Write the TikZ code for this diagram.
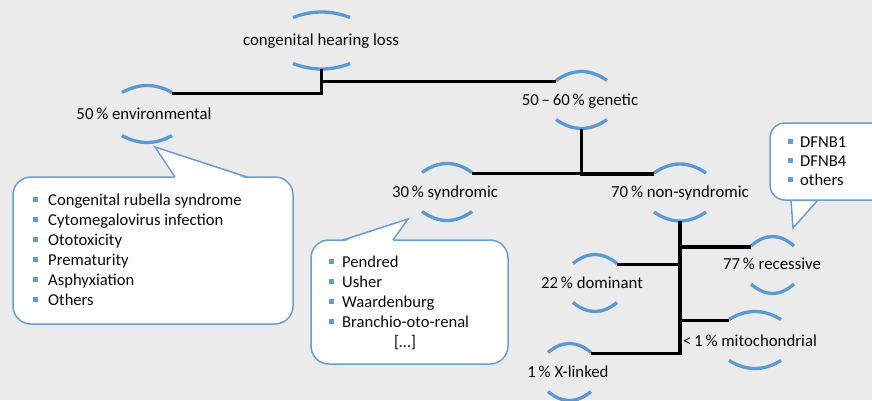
\documentclass[tikz,border=0pt]{standalone}
\usepackage{fontspec}
\setmainfont{Carlito}
\usetikzlibrary{calc}
\definecolor{bg}{RGB}{235,235,235}
\definecolor{arcblue}{RGB}{90,153,210}
\definecolor{boxblue}{RGB}{105,158,212}
\definecolor{bulletblue}{RGB}{100,155,210}
\definecolor{txt}{RGB}{10,10,10}
\tikzset{
  lbl/.style={inner sep=0pt, font=\fontsize{16.8}{20}\selectfont, text=txt},
  item/.style={inner sep=0pt, anchor=base west, font=\fontsize{16.6}{20}\selectfont, text=txt},
  arcline/.style={draw=arcblue, line width=3.3pt},
  conn/.style={draw=black, line width=3.3pt, line join=miter},
  calloutbox/.style={fill=white, draw=boxblue, line width=1.5pt},
  pointer/.style={draw=boxblue, line width=1.5pt, line join=miter},
}
% #1 name, #2 text x, #3 baseline y, #4 arc cx, #5 arc cy, #6 half width, #7 sagitta, #8 text
\newcommand\hnode[8]{%
  \node[lbl, anchor=base] (#1) at (#2,#3) {#8};
  \coordinate (#1-c) at (#4,#5);
  \draw[arcline] ($(#1-c)+(-#6,{-28.5+#7})$)
     .. controls ($(#1-c)+({-#6/3},{-28.5-#7/3})$) and ($(#1-c)+({#6/3},{-28.5-#7/3})$)
     .. ($(#1-c)+(#6,{-28.5+#7})$);
  \draw[arcline] ($(#1-c)+(-#6,{28.5-#7})$)
     .. controls ($(#1-c)+({-#6/3},{28.5+#7/3})$) and ($(#1-c)+({#6/3},{28.5+#7/3})$)
     .. ($(#1-c)+(#6,{28.5-#7})$);
  \coordinate (#1-b) at ($(#1-c)+(0,28.5)$);
  \coordinate (#1-tl) at ($(#1-c)+(-#6,{-27.5+#7})$);
  \coordinate (#1-tr) at ($(#1-c)+(#6,{-27.5+#7})$);
}
\begin{document}
\begin{tikzpicture}[x=1pt,y=-1pt]
\useasboundingbox (0,0) rectangle (872,400);
\clip (0,0) rectangle (872,400);
\fill[bg] (0,0) rectangle (872,400);

% callout: environmental
\draw[calloutbox, rounded corners=18pt] (13,177) rectangle (293,324);
\fill[white] (175.5,178.6) -- (155,147) -- (246.5,178.6) -- cycle;
\draw[pointer] (175,177) -- (155,147) -- (247,177);
% callout: syndromic
\draw[calloutbox, rounded corners=18pt] (311,240) rectangle (508,364);
\fill[white] (343.5,241.6) -- (408,219) -- (392.5,241.6) -- cycle;
\draw[pointer] (343,240) -- (408,219) -- (393,240);
% callout: recessive
\draw[calloutbox, rounded corners=15pt] (770,123) rectangle (900,200);
\fill[white] (791.3,201.6) -- (793,228) -- (817.5,201.6) -- cycle;
\draw[pointer] (791,200) -- (793,228) -- (818,200);

% list items
\foreach \t [count=\i] in {Congenital rubella syndrome, Cytomegalovirus infection, Ototoxicity, Prematurity, Asphyxiation, Others}{
  \node[item] (env\i) at (48,{185+20*\i}) {\t};
  \fill[bulletblue] (33,{176.5+20*\i}) rectangle ++(5,5);
}
\foreach \t [count=\i] in {Pendred, Usher, Waardenburg, Branchio-oto-renal}{
  \node[item] (syn\i) at (342,{247+20*\i}) {\t};
  \fill[bulletblue] (329,{238.5+20*\i}) rectangle ++(5,5);
}
\node[lbl, anchor=base] (synmore) at (405,347) {[…]};
\foreach \t [count=\i] in {DFNB1, DFNB4, others}{
  \node[item] (rec\i) at (800,{128+19*\i}) {\t};
  \fill[bulletblue] (788,{119.5+19*\i}) rectangle ++(5,5);
}

% labelled nodes with arcs
\hnode{hl}{321}{45}{321.5}{40.5}{28.5}{5.5}{congenital hearing loss}
\hnode{env}{144}{119}{147}{114}{25}{7}{50\,\% environmental}
\hnode{gen}{580}{105}{581.5}{100}{25.5}{9}{50\,–\,60\,\% genetic}
\hnode{synd}{445}{197}{447}{192}{25}{9}{30\,\% syndromic}
\hnode{nsyn}{680}{197}{680}{192.5}{26}{9}{70\,\% non-syndromic}
\hnode{rec}{772}{269}{772.5}{265}{21.5}{9.5}{77\,\% recessive}
\hnode{dom}{592}{288}{595}{283}{22}{9}{22\,\% dominant}
\hnode{mito}{750}{346}{755}{340}{26}{8}{<\,1\,\% mitochondrial}
\hnode{xl}{568}{377}{569.5}{372}{21.5}{9}{1\,\% X-linked}

% connectors
\draw[conn] (hl-b) |- (env-tr);
\draw[conn] (hl-b) |- (gen-tl);
\draw[conn] (gen-b) |- (synd-tr);
\draw[conn] (gen-b) |- (nsyn-tl);
\draw[conn] (nsyn-b) |- (rec-tl);
\draw[conn] (nsyn-b) |- (dom-tr);
\draw[conn] (nsyn-b) |- (mito-tl);
\draw[conn] (nsyn-b) |- (xl-tr);
\end{tikzpicture}
\end{document}
